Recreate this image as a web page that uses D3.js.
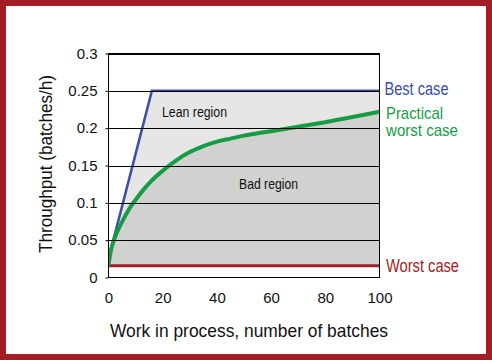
<!DOCTYPE html>
<html>
<head>
<meta charset="utf-8">
<script src="https://cdn.jsdelivr.net/npm/d3@7"></script>
<style>
  body { margin: 0; background: #fff; }
  text { font-family: "Liberation Sans Narrow", "Arial Narrow", "Liberation Sans", sans-serif; }
</style>
</head>
<body>
<div id="chart"></div>
<script>
// values
var yTicks = [0, 0.05, 0.1, 0.15, 0.2, 0.25, 0.3];
var xTicks = [0, 20, 40, 60, 80, 100];

var bestWip = [0, 16, 100];
var bestTh = [0.025, 0.25, 0.25];

var practWip = [0, 1, 2, 4.5, 8, 10, 13, 16, 20, 25, 30, 35, 40, 45, 50, 60, 70, 80, 90, 100];
var practTh = [0.017, 0.038, 0.05, 0.071, 0.094, 0.104, 0.118, 0.13, 0.143, 0.157, 0.168, 0.176, 0.182, 0.186, 0.19, 0.196, 0.202, 0.208, 0.215, 0.222];

var worstWip = [0, 100];
var worstTh = [0.0157, 0.0157];

var W = 492, H = 360;
var plotLeft = 108.5, plotRight = 379.5, plotTop = 53.5, plotBottom = 277.5;

var svg = d3.select("#chart").append("svg")
  .attr("width", W)
  .attr("height", H);

// red frame
svg.append("rect")
  .attr("x", 3).attr("y", 3)
  .attr("width", W - 6).attr("height", H - 6)
  .attr("fill", "#fff")
  .attr("stroke", "#a51d24")
  .attr("stroke-width", 6);

var x = d3.scaleLinear().domain([0, 100]).range([plotLeft, plotRight]);
var y = d3.scaleLinear().domain([0, 0.3]).range([plotBottom, plotTop]);

var best = bestWip.map((d, i) => [d, bestTh[i]]);
var pract = practWip.map((d, i) => [d, practTh[i]]);
var worst = worstWip.map((d, i) => [d, worstTh[i]]);

svg.append("clipPath").attr("id", "clip")
  .append("rect")
  .attr("x", plotLeft).attr("y", plotTop)
  .attr("width", plotRight - plotLeft).attr("height", plotBottom - plotTop);

var plot = svg.append("g").attr("clip-path", "url(#clip)");

var area = d3.area()
  .x(d => x(d[0]))
  .y0(y(worstTh[0]))
  .y1(d => y(d[1]));

// lean region
plot.append("path")
  .attr("d", area(best))
  .attr("fill", "#e6e6e6");

// bad region
plot.append("path")
  .attr("d", area.curve(d3.curveMonotoneX)(pract))
  .attr("fill", "#d1d2cf");

// grid lines
svg.append("g")
  .selectAll("line")
  .data(yTicks.slice(1))
  .join("line")
    .attr("x1", plotLeft).attr("x2", plotRight)
    .attr("y1", d => Math.round(y(d)) + 0.5)
    .attr("y2", d => Math.round(y(d)) + 0.5)
    .attr("stroke", "#000")
    .attr("stroke-width", 1);

var line = d3.line()
  .x(d => x(d[0]))
  .y(d => y(d[1]));

plot.append("path")
  .attr("d", line(worst))
  .attr("fill", "none")
  .attr("stroke", "#a51d24")
  .attr("stroke-width", 3);

plot.append("path")
  .attr("d", line(best))
  .attr("fill", "none")
  .attr("stroke", "#3b4fa3")
  .attr("stroke-width", 2.5);

plot.append("path")
  .attr("d", line.curve(d3.curveMonotoneX)(pract))
  .attr("fill", "none")
  .attr("stroke", "#169c45")
  .attr("stroke-width", 4)
  .attr("stroke-linecap", "round");

// plot frame
svg.append("rect")
  .attr("x", plotLeft).attr("y", plotTop)
  .attr("width", plotRight - plotLeft).attr("height", plotBottom - plotTop)
  .attr("fill", "none")
  .attr("stroke", "#000")
  .attr("stroke-width", 1);

// axes
var yAxis = svg.append("g")
  .attr("transform", "translate(" + plotLeft + ",0)")
  .call(d3.axisLeft(y).tickValues(yTicks).tickSize(3).tickPadding(8)
    .tickFormat(d => d === 0 ? "0" : String(+d.toFixed(2))));
yAxis.select(".domain").remove();
yAxis.selectAll("text").attr("font-size", 15).attr("fill", "#111");

var xAxis = svg.append("g")
  .attr("transform", "translate(0," + plotBottom + ")")
  .call(d3.axisBottom(x).tickValues(xTicks).tickSize(0).tickPadding(15));
xAxis.select(".domain").remove();
xAxis.selectAll("text").attr("font-size", 15).attr("fill", "#111");

// narrow text: squeeze glyphs to the widths seen in the picture
function label(px, py, txt, size, color, len) {
  return svg.append("text")
    .attr("x", px).attr("y", py)
    .attr("font-size", size)
    .attr("fill", color)
    .attr("textLength", len)
    .attr("lengthAdjust", "spacingAndGlyphs")
    .text(txt);
}

label(110, 337, "Work in process, number of batches", 18.5, "#111", 278);

svg.append("text")
  .attr("transform", "translate(52,253) rotate(-90)")
  .attr("font-size", 18.5)
  .attr("fill", "#111")
  .attr("textLength", 178)
  .attr("lengthAdjust", "spacingAndGlyphs")
  .text("Throughput (batches/h)");

// region labels
label(162, 117, "Lean region", 14, "#111", 65);
label(239, 188.5, "Bad region", 14, "#111", 59);

// series labels
label(384.5, 95, "Best case", 17.5, "#3b4fa3", 64);
label(386, 118.5, "Practical", 17, "#169c45", 57);
label(386, 136, "worst case", 17, "#169c45", 72);
label(386, 272, "Worst case", 17.5, "#a51d24", 73);
</script>
</body>
</html>
